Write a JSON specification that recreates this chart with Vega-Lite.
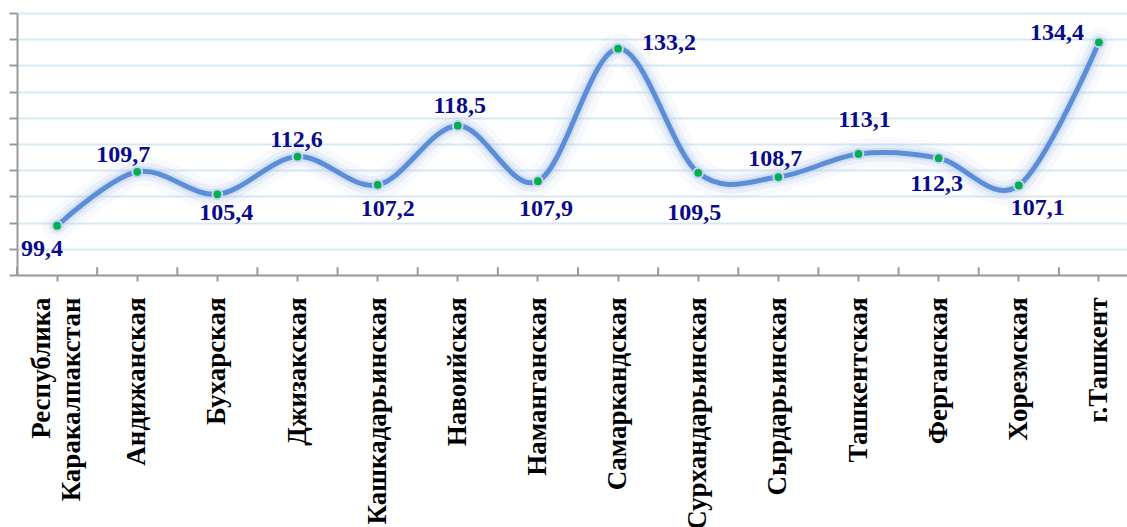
{
  "$schema": "https://vega.github.io/schema/vega-lite/v6.json",
  "width": 1122,
  "height": 262,
  "autosize": {"type": "none"},
  "padding": {"left": 17, "top": 13, "right": -12, "bottom": 252},
  "background": "white",
  "config": {"view": {"stroke": null}},
  "data": {"values": [
    {"region": "Республика Каракалпакстан", "value": 99.4},
    {"region": "Андижанская", "value": 109.7},
    {"region": "Бухарская", "value": 105.4},
    {"region": "Джизакская", "value": 112.6},
    {"region": "Кашкадарьинская", "value": 107.2},
    {"region": "Навоийская", "value": 118.5},
    {"region": "Наманганская", "value": 107.9},
    {"region": "Самаркандская", "value": 133.2},
    {"region": "Сурхандарьинская", "value": 109.5},
    {"region": "Сырдарьинская", "value": 108.7},
    {"region": "Ташкентская", "value": 113.1},
    {"region": "Ферганская", "value": 112.3},
    {"region": "Хорезмская", "value": 107.1},
    {"region": "г.Ташкент", "value": 134.4}
  ]},
  "transform": [{"calculate": "replace(format(datum.value, '.1f'), '.', ',')", "as": "label"}],
  "encoding": {
    "x": {
      "field": "region", "type": "nominal", "sort": null,
      "scale": {"type": "band", "paddingInner": 0, "paddingOuter": 0},
      "axis": {
        "title": null, "grid": false, "labelAngle": -90, "labelAlign": "right", "labelBaseline": "middle",
        "labelFont": "Liberation Serif", "labelFontWeight": "bold", "labelFontSize": 27, "labelColor": "#000000",
        "labelPadding": 16, "labelLimit": 400, "labelLineHeight": 30, "labelOverlap": false,
        "labelOffset": {"condition": {"test": "datum.label == 'Республика Каракалпакстан'", "value": -15}, "value": 0},
        "labelExpr": "datum.label == 'Республика Каракалпакстан' ? ['Республика\u00a0\u00a0\u00a0\u00a0\u2009', 'Каракалпакстан'] : datum.label",
        "tickSize": 6, "tickColor": "#9a9a9a", "tickWidth": 2, "domainColor": "#9a9a9a", "domainWidth": 2
      }
    },
    "y": {
      "field": "value", "type": "quantitative",
      "scale": {"domain": [90, 140], "nice": false, "zero": false},
      "axis": {
        "title": null, "labels": false, "values": [90, 95, 100, 105, 110, 115, 120, 125, 130, 135, 140],
        "tickSize": 8, "tickColor": "#9a9a9a", "tickWidth": 2, "domainColor": "#9a9a9a", "domainWidth": 2,
        "grid": true, "gridColor": "#d6e9f4", "gridWidth": 2
      }
    }
  },
  "layer": [
    {"mark": {"type": "line", "interpolate": "cardinal", "strokeWidth": 30, "color": "#c4d6f0", "opacity": 0.14, "strokeCap": "round", "strokeJoin": "round"}},
    {"mark": {"type": "line", "interpolate": "cardinal", "strokeWidth": 18, "color": "#b3caec", "opacity": 0.2, "strokeCap": "round", "strokeJoin": "round"}},
    {"mark": {"type": "line", "interpolate": "cardinal", "strokeWidth": 10, "color": "#a5c0ea", "opacity": 0.3, "strokeCap": "round", "strokeJoin": "round"}},
    {"mark": {"type": "line", "interpolate": "cardinal", "strokeWidth": 5, "color": "#5b8ed6", "strokeCap": "round"}},
    {
      "mark": {"type": "rule", "color": "#9a9a9a", "strokeWidth": 2},
      "encoding": {
        "x": {"field": "region", "type": "nominal", "sort": null, "bandPosition": 0},
        "y": {"datum": 90},
        "y2": {"datum": 91.5}
      }
    },
    {"mark": {"type": "circle", "fill": "#00b050", "stroke": "#c5d3ef", "strokeWidth": 2, "size": 95, "opacity": 1, "fillOpacity": 1, "strokeOpacity": 1}},
    {"transform": [{"filter": "datum.region == 'Республика Каракалпакстан'"}], "mark": {"type": "text", "font": "Liberation Serif", "fontWeight": "bold", "fontSize": 24, "color": "#0a0a8a", "baseline": "middle", "dx": -15, "dy": 23}, "encoding": {"text": {"field": "label"}}},
    {"transform": [{"filter": "datum.region == 'Андижанская'"}], "mark": {"type": "text", "font": "Liberation Serif", "fontWeight": "bold", "fontSize": 24, "color": "#0a0a8a", "baseline": "middle", "dx": -14, "dy": -17}, "encoding": {"text": {"field": "label"}}},
    {"transform": [{"filter": "datum.region == 'Бухарская'"}], "mark": {"type": "text", "font": "Liberation Serif", "fontWeight": "bold", "fontSize": 24, "color": "#0a0a8a", "baseline": "middle", "dx": 9, "dy": 19}, "encoding": {"text": {"field": "label"}}},
    {"transform": [{"filter": "datum.region == 'Джизакская'"}], "mark": {"type": "text", "font": "Liberation Serif", "fontWeight": "bold", "fontSize": 24, "color": "#0a0a8a", "baseline": "middle", "dx": -1, "dy": -17}, "encoding": {"text": {"field": "label"}}},
    {"transform": [{"filter": "datum.region == 'Кашкадарьинская'"}], "mark": {"type": "text", "font": "Liberation Serif", "fontWeight": "bold", "fontSize": 24, "color": "#0a0a8a", "baseline": "middle", "dx": 10, "dy": 24}, "encoding": {"text": {"field": "label"}}},
    {"transform": [{"filter": "datum.region == 'Навоийская'"}], "mark": {"type": "text", "font": "Liberation Serif", "fontWeight": "bold", "fontSize": 24, "color": "#0a0a8a", "baseline": "middle", "dx": 2, "dy": -20}, "encoding": {"text": {"field": "label"}}},
    {"transform": [{"filter": "datum.region == 'Наманганская'"}], "mark": {"type": "text", "font": "Liberation Serif", "fontWeight": "bold", "fontSize": 24, "color": "#0a0a8a", "baseline": "middle", "dx": 8, "dy": 28}, "encoding": {"text": {"field": "label"}}},
    {"transform": [{"filter": "datum.region == 'Самаркандская'"}], "mark": {"type": "text", "font": "Liberation Serif", "fontWeight": "bold", "fontSize": 24, "color": "#0a0a8a", "baseline": "middle", "dx": 51, "dy": -6}, "encoding": {"text": {"field": "label"}}},
    {"transform": [{"filter": "datum.region == 'Сурхандарьинская'"}], "mark": {"type": "text", "font": "Liberation Serif", "fontWeight": "bold", "fontSize": 24, "color": "#0a0a8a", "baseline": "middle", "dx": -4, "dy": 40}, "encoding": {"text": {"field": "label"}}},
    {"transform": [{"filter": "datum.region == 'Сырдарьинская'"}], "mark": {"type": "text", "font": "Liberation Serif", "fontWeight": "bold", "fontSize": 24, "color": "#0a0a8a", "baseline": "middle", "dx": -3, "dy": -18}, "encoding": {"text": {"field": "label"}}},
    {"transform": [{"filter": "datum.region == 'Ташкентская'"}], "mark": {"type": "text", "font": "Liberation Serif", "fontWeight": "bold", "fontSize": 24, "color": "#0a0a8a", "baseline": "middle", "dx": 6, "dy": -34}, "encoding": {"text": {"field": "label"}}},
    {"transform": [{"filter": "datum.region == 'Ферганская'"}], "mark": {"type": "text", "font": "Liberation Serif", "fontWeight": "bold", "fontSize": 24, "color": "#0a0a8a", "baseline": "middle", "dx": -2, "dy": 26}, "encoding": {"text": {"field": "label"}}},
    {"transform": [{"filter": "datum.region == 'Хорезмская'"}], "mark": {"type": "text", "font": "Liberation Serif", "fontWeight": "bold", "fontSize": 24, "color": "#0a0a8a", "baseline": "middle", "dx": 19, "dy": 23}, "encoding": {"text": {"field": "label"}}},
    {"transform": [{"filter": "datum.region == 'г.Ташкент'"}], "mark": {"type": "text", "font": "Liberation Serif", "fontWeight": "bold", "fontSize": 24, "color": "#0a0a8a", "baseline": "middle", "dx": -42, "dy": -9}, "encoding": {"text": {"field": "label"}}}
  ]
}
